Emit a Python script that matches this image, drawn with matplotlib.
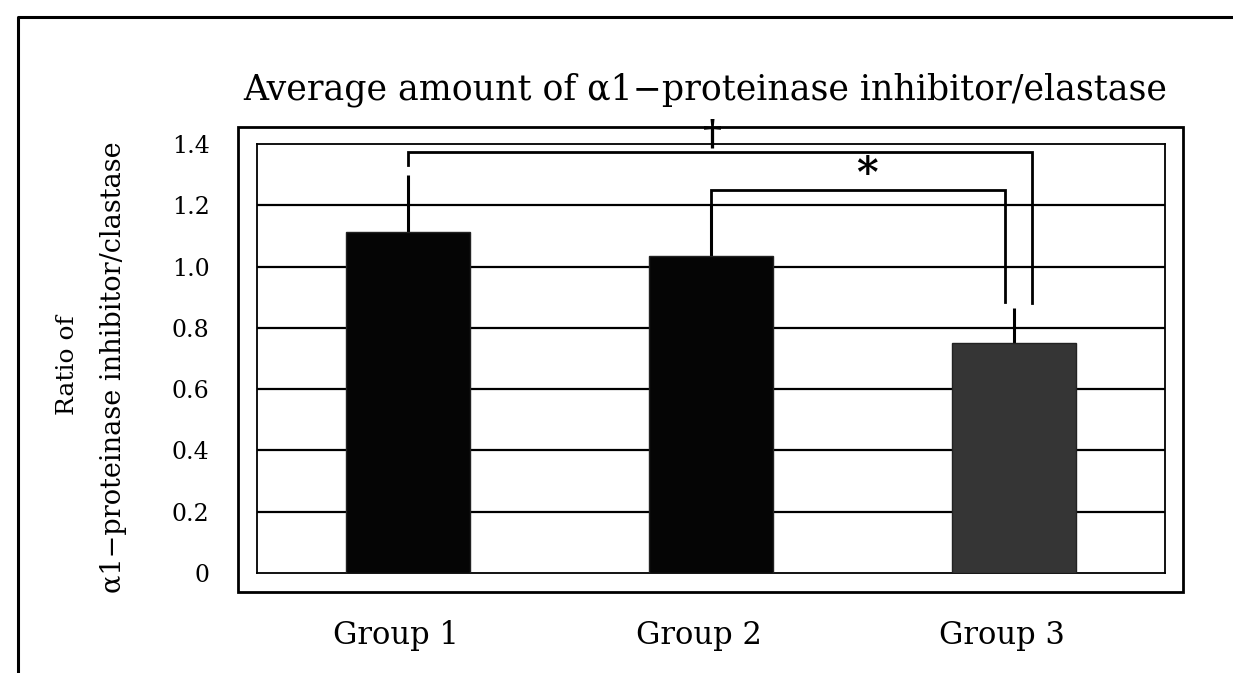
import numpy as np
import matplotlib.pyplot as plt
import matplotlib.transforms as mtransforms
from matplotlib.patches import Rectangle
from matplotlib.lines import Line2D

# values
groups = ['Group 1', 'Group 2', 'Group 3']
means = [1.114, 1.033, 0.752]
err_up = [0.186, 0.167, 0.114]
bar_colors = ['#050505', '#050505', '#353535']
yticks = [0, 0.2, 0.4, 0.6, 0.8, 1.0, 1.2, 1.4]
ytick_labels = ['0', '0.2', '0.4', '0.6', '0.8', '1.0', '1.2', '1.4']

# significance brackets: (x left, x right, top, left foot, right foot, mark)
brackets = [(0.0, 2.06, 1.373, 1.333, 0.882, '\u2020'),
            (1.0, 1.97, 1.250, 1.200, 0.886, '*')]
mark_pos = [(1.006, 1.43), (1.515, 1.300)]

plt.rcParams['font.family'] = ['DejaVu Serif', 'DejaVu Sans']

fig = plt.figure(figsize=(12.33, 6.73), dpi=100)
fig.patch.set_facecolor('white')
ax = fig.add_axes([0.2084, 0.1486, 0.7364, 0.6374])

x = np.arange(len(groups))
ax.bar(x, means, width=0.41, color=bar_colors, edgecolor='#222222',
       linewidth=1.0, zorder=3)
ax.errorbar(x, means, yerr=[np.zeros(len(means)), err_up], fmt='none',
            ecolor='black', elinewidth=2.2, capsize=0, zorder=2)

# gridlines
for t in yticks[1:-1]:
    ax.axhline(t, color='black', linewidth=1.6, zorder=1)

for (x0, x1, ytop, yl, yr, m), (mx, my) in zip(brackets, mark_pos):
    ax.plot([x0, x0, x1, x1], [yl, ytop, ytop, yr], color='black',
            linewidth=2.0, zorder=4, solid_joinstyle='miter')
    if m == '*':
        ax.text(mx, my, m, ha='center', va='center', fontsize=30,
                fontweight='bold', zorder=5)
    else:
        ax.text(mx, my, m, ha='center', va='center', fontsize=26,
                fontweight='bold', zorder=5, clip_on=False)

ax.set_xlim(-0.5, 2.5)
ax.set_ylim(0, 1.4)
ax.set_yticks(yticks)
ax.set_yticklabels(ytick_labels, fontsize=17)
ax.set_xticks(x)
ax.set_xticklabels(groups, fontsize=22)
ax.tick_params(axis='both', length=0)
ax.tick_params(axis='y', pad=34)
ax.tick_params(axis='x', pad=34)
# group names sit a little left of the bar centres in the scan
shift = mtransforms.ScaledTranslation(-12 / 100, 0, fig.dpi_scale_trans)
for lab in ax.get_xticklabels():
    lab.set_transform(lab.get_transform() + shift)
for s in ax.spines.values():
    s.set_linewidth(1.3)
    s.set_color('black')

# frame around the chart area
fig.patches.append(Rectangle((238 / 1233, 1 - 592 / 673),
                             (1183 - 238) / 1233, (592 - 127) / 673,
                             transform=fig.transFigure, fill=False,
                             edgecolor='black', linewidth=2.0))
# page border (top and left)
fig.lines.append(Line2D([18 / 1233, 18 / 1233, 1.0],
                        [0.0, 1 - 17 / 673, 1 - 17 / 673],
                        transform=fig.transFigure, color='black',
                        linewidth=2.2))

fig.text(705 / 1233, 1 - 90 / 673,
         'Average amount of \u03b11\u2212proteinase inhibitor/elastase',
         ha='center', va='center', fontsize=25)
fig.text(67 / 1233, 1 - 365 / 673, 'Ratio of', rotation=90,
         ha='center', va='center', fontsize=18)
fig.text(114 / 1233, 1 - 367 / 673,
         '\u03b11\u2212proteinase inhibitor/clastase', rotation=90,
         ha='center', va='center', fontsize=19.5)

fig.savefig('out.png', dpi=100)
